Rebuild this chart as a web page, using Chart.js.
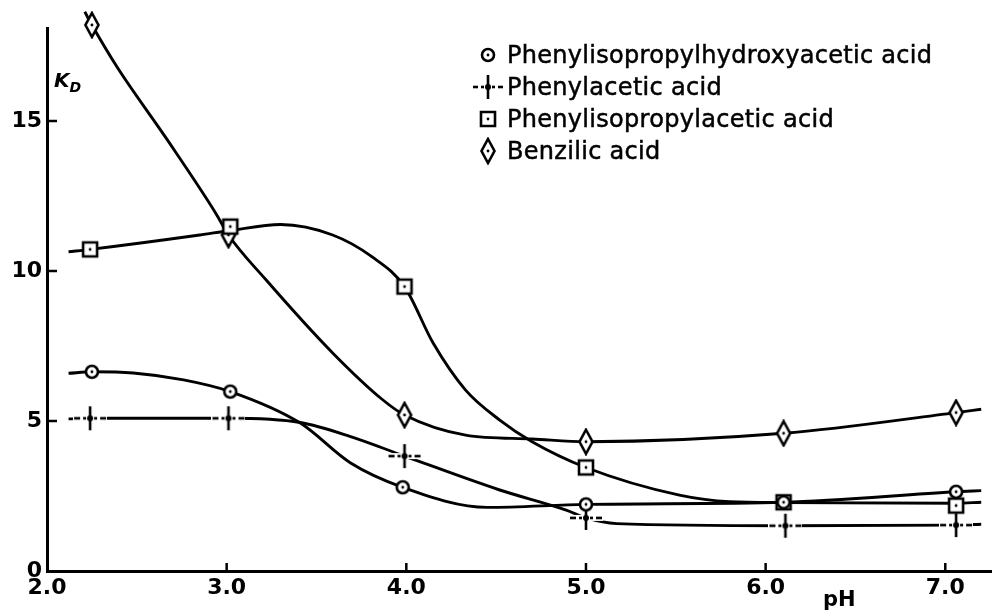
<!DOCTYPE html>
<html>
<head>
<meta charset="utf-8">
<script src="https://cdn.jsdelivr.net/npm/chart.js@4"></script>
<style>
  body { margin: 0; background: #fff; }
  #wrap { position: relative; width: 992px; height: 610px; }
  #legend { position: absolute; left: 473px; top: 39px; font: 24px "DejaVu Sans"; letter-spacing: 0.3px; -webkit-text-stroke: 0.5px #000; line-height: 32px; color: #000; }
  #legend .item { display: flex; align-items: center; height: 32px; }
  #legend canvas { margin-right: 4px; }
  #kd { position: absolute; left: 54px; top: 68px; font: italic bold 20px "DejaVu Sans"; color: #000; }
  #kd sub { font-size: 14px; }
  #ph { position: absolute; left: 823px; top: 587px; font: bold 21px "DejaVu Sans"; color: #000; }
</style>
</head>
<body>
<div id="wrap">
  <canvas id="chart" width="992" height="610"></canvas>
  <div id="legend"></div>
  <div id="kd">K<sub>D</sub></div>
  <div id="ph">pH</div>
</div>
<script>
// series names (legend order)
const seriesNames = [
  "Phenylisopropylhydroxyacetic acid",
  "Phenylacetic acid",
  "Phenylisopropylacetic acid",
  "Benzilic acid"
];
const markerKinds = ["circle", "cross", "square", "diamond"];

// measured points: pH and K_D
const phCircle = [2.25, 3.02, 3.98, 5.0, 6.1, 7.06];
const kCircle = [6.64, 5.98, 2.79, 2.22, 2.29, 2.64];
const phCross = [2.24, 3.01, 3.99, 5.0, 6.11, 7.06];
const kCross = [5.09, 5.09, 3.83, 1.77, 1.51, 1.53];
const phSquare = [2.24, 3.02, 3.99, 5.0, 6.1, 7.06];
const kSquare = [10.72, 11.48, 9.48, 3.45, 2.29, 2.18];
const phDiamond = [2.25, 3.01, 3.99, 5.0, 6.1, 7.06];
const kDiamond = [18.2, 11.2, 5.2, 4.31, 4.59, 5.28];

// drawn curves
const phCircleCurve = [2.12, 2.25, 2.48, 2.76, 3.02, 3.41, 3.69, 3.98, 4.45, 5.0, 6.1, 7.06, 7.2];
const kCircleCurve = [6.59, 6.64, 6.6, 6.37, 5.98, 4.93, 3.6, 2.79, 2.12, 2.22, 2.29, 2.64, 2.68];
const phCrossCurve = [2.12, 2.24, 3.01, 3.41, 3.69, 3.99, 4.52, 4.89, 5.0, 5.17, 6.11, 7.06, 7.2];
const kCrossCurve = [5.07, 5.09, 5.09, 4.95, 4.48, 3.83, 2.7, 2.03, 1.77, 1.58, 1.51, 1.53, 1.56];
const phSquareCurve = [2.12, 2.24, 2.85, 3.02, 3.3, 3.59, 3.81, 3.99, 4.15, 4.33, 4.52, 4.7, 5.0, 5.52, 5.8, 6.1, 7.06, 7.2];
const kSquareCurve = [10.64, 10.72, 11.2, 11.35, 11.55, 11.2, 10.47, 9.48, 7.59, 6.03, 5.03, 4.31, 3.45, 2.53, 2.31, 2.28, 2.26, 2.29];
const phDiamondCurve = [2.21, 2.25, 2.39, 2.67, 2.94, 3.01, 3.22, 3.59, 3.87, 3.99, 4.33, 4.7, 5.0, 6.1, 7.06, 7.2];
const kDiamondCurve = [18.64, 18.2, 16.8, 14.37, 11.92, 11.2, 9.7, 7.27, 5.7, 5.2, 4.53, 4.4, 4.31, 4.59, 5.28, 5.39];

const xTicks = [2, 3, 4, 5, 6, 7];
const yTicks = [0, 5, 10, 15];

const measured = [[phCircle, kCircle], [phCross, kCross], [phSquare, kSquare], [phDiamond, kDiamond]];
const curves = [[phCircleCurve, kCircleCurve], [phCrossCurve, kCrossCurve], [phSquareCurve, kSquareCurve], [phDiamondCurve, kDiamondCurve]];

function toPoints(xs, ys) {
  return xs.map((x, i) => ({ x, y: ys[i] }));
}

function makeMarker(kind) {
  const c = document.createElement("canvas");
  const w = kind === "cross" ? 34 : 20;
  const h = kind === "circle" || kind === "square" ? 20 : 28;
  c.width = w;
  c.height = h;
  const g = c.getContext("2d");
  g.translate(w / 2, h / 2);
  g.lineWidth = 2.6;
  g.strokeStyle = "#000";
  g.fillStyle = "#fff";
  if (kind === "cross") {
    // white gaps then short dashes, vertical bar and dot
    g.fillRect(-17, -3, 34, 6);
    g.fillStyle = "#000";
    [[-16, -10], [-7, -4], [4, 7], [10, 16]].forEach(d => g.fillRect(d[0], -1.3, d[1] - d[0], 2.6));
    g.fillRect(-1.3, -12, 2.6, 24);
    g.beginPath();
    g.arc(0, 0, 3, 0, Math.PI * 2);
    g.fill();
    return c;
  }
  g.beginPath();
  if (kind === "circle") g.arc(0, 0, 6, 0, Math.PI * 2);
  else if (kind === "square") g.rect(-7, -7, 14, 14);
  else {
    g.moveTo(0, -12); g.lineTo(6.5, 0); g.lineTo(0, 12); g.lineTo(-6.5, 0); g.closePath();
  }
  g.fill();
  g.stroke();
  g.fillStyle = "#000";
  g.beginPath();
  g.arc(0, 0, 1.4, 0, Math.PI * 2);
  g.fill();
  return c;
}

const markers = markerKinds.map(makeMarker);

const datasets = [];
seriesNames.forEach((name, i) => {
  datasets.push({
    label: name,
    data: toPoints(curves[i][0], curves[i][1]),
    showLine: true,
    borderColor: "#000",
    borderWidth: 2.9,
    pointRadius: 0,
    cubicInterpolationMode: "monotone",
    clip: false,
    order: 5
  });
  datasets.push({
    label: name,
    data: toPoints(measured[i][0], measured[i][1]),
    showLine: false,
    pointStyle: markers[i],
    pointRadius: 6,
    clip: false,
    order: i === 0 ? 0 : 1
  });
});

// tick marks point into the plot
const inwardTicks = {
  id: "inwardTicks",
  afterDraw(chart) {
    const { ctx, chartArea, scales } = chart;
    ctx.save();
    ctx.strokeStyle = "#000";
    ctx.lineWidth = 2.5;
    xTicks.slice(1).forEach(v => {
      const px = scales.x.getPixelForValue(v);
      ctx.beginPath();
      ctx.moveTo(px, chartArea.bottom);
      ctx.lineTo(px, chartArea.bottom - 8);
      ctx.stroke();
    });
    yTicks.slice(1).forEach(v => {
      const py = scales.y.getPixelForValue(v);
      ctx.beginPath();
      ctx.moveTo(chartArea.left, py);
      ctx.lineTo(chartArea.left + 10, py);
      ctx.stroke();
    });
    ctx.restore();
  }
};

const htmlLegend = {
  id: "htmlLegend",
  afterUpdate(chart) {
    const box = document.getElementById("legend");
    box.innerHTML = "";
    chart.data.datasets.filter(d => !d.showLine).forEach(d => {
      const item = document.createElement("div");
      item.className = "item";
      const m = document.createElement("canvas");
      m.width = 30;
      m.height = 28;
      m.getContext("2d").drawImage(d.pointStyle, (30 - d.pointStyle.width) / 2, (28 - d.pointStyle.height) / 2);
      item.appendChild(m);
      const t = document.createElement("span");
      t.textContent = d.label;
      item.appendChild(t);
      box.appendChild(item);
    });
  }
};

const tickFont = { family: "DejaVu Sans", size: 22, weight: "bold" };

new Chart(document.getElementById("chart"), {
  type: "scatter",
  data: { datasets },
  options: {
    responsive: false,
    animation: false,
    layout: { autoPadding: false, padding: { top: 28, right: 0, left: 0, bottom: 0 } },
    plugins: { legend: { display: false }, tooltip: { enabled: false } },
    scales: {
      x: {
        type: "linear",
        min: 2,
        max: 7.26,
        grid: { display: false, drawTicks: false },
        border: { display: true, color: "#000", width: 3 },
        afterBuildTicks: s => { s.ticks = xTicks.map(v => ({ value: v })); },
        afterFit: s => { s.height = 39; s.paddingLeft = 0; s.paddingRight = 0; },
        ticks: { color: "#000", font: tickFont, padding: 4, maxRotation: 0, callback: v => v.toFixed(1) }
      },
      y: {
        type: "linear",
        min: 0,
        max: 18.1,
        grid: { display: false, drawTicks: false },
        border: { display: true, color: "#000", width: 3 },
        afterBuildTicks: s => { s.ticks = yTicks.map(v => ({ value: v })); },
        afterFit: s => { s.width = 47; s.paddingTop = 0; s.paddingBottom = 0; },
        ticks: { color: "#000", font: tickFont, padding: 5 }
      }
    }
  },
  plugins: [inwardTicks, htmlLegend]
});
</script>
</body>
</html>
